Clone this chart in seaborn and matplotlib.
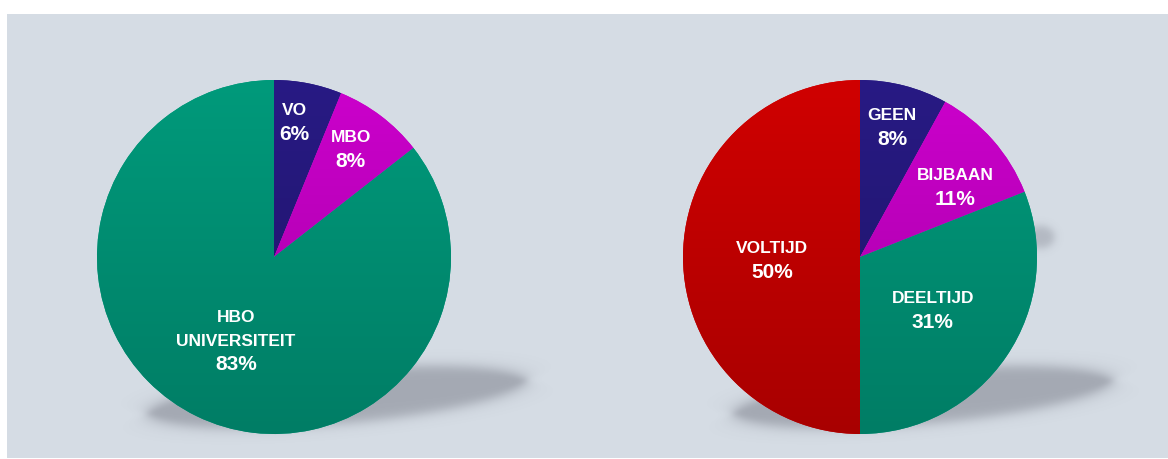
"""
Twee taartdiagrammen: vooropleiding en werk naast de studie.
"""

import matplotlib
matplotlib.use("Agg")
import matplotlib.pyplot as plt
from matplotlib.patches import Rectangle
import numpy as np
import seaborn as sns

# data
edu_labels = ["VO", "MBO", "HBO\nUNIVERSITEIT"]
edu_values = [6, 8, 83]
work_labels = ["GEEN", "BIJBAAN", "DEELTIJD", "VOLTIJD"]
work_values = [8, 11, 31, 50]

# (top, bottom) gradient colours
NAVY = ("#281a84", "#1e1466")
MAGENTA = ("#cc00cc", "#a400a4")
TEAL = ("#009a7b", "#007d65")
RED = ("#d00000", "#a80000")
edu_colors = [NAVY, MAGENTA, TEAL]
work_colors = [NAVY, MAGENTA, TEAL, RED]

# label placement: (radius fraction, angle tweak in degrees)
edu_label_pos = [(0.78, 2.6), (0.754, 2.0), (0.513, 1.3)]
work_label_pos = [(0.762, 0.7), (0.67, -4.6), (0.506, -1.3), (0.497, 1.0)]

W, H = 1168, 459
R = 177
BG = "#d5dce4"
STEP = 23.5

sns.set_theme(style="white")
plt.rcParams["font.family"] = ["Liberation Sans", "DejaVu Sans"]


def soft_ellipse(xx, yy, cx, cy, a, b, ang, w):
    t = np.deg2rad(ang)
    u = (xx - cx) * np.cos(t) + (yy - cy) * np.sin(t)
    v = -(xx - cx) * np.sin(t) + (yy - cy) * np.cos(t)
    f = np.sqrt((u / a) ** 2 + (v / b) ** 2) + 1e-9
    g = np.sqrt((u / a**2) ** 2 + (v / b**2) ** 2) / f + 1e-9
    sdf = (f - 1) / g
    return 0.5 * (1 - np.tanh(sdf / w))


def draw_shadows(ax):
    yy, xx = np.mgrid[0:H, 0:W] + 0.5
    alpha = np.zeros((H, W))
    for cx in (337, 923):
        alpha += 0.32 * soft_ellipse(xx, yy, cx, 62, 190, 27, 5, 7)
    alpha += 0.22 * soft_ellipse(xx, yy, 1040, 222, 14, 11, 0, 5)
    rgba = np.zeros((H, W, 4))
    rgba[..., 0] = 60 / 255
    rgba[..., 1] = 61 / 255
    rgba[..., 2] = 75 / 255
    rgba[..., 3] = np.clip(alpha, 0, 1)
    ax.imshow(rgba, extent=[0, W, 0, H], origin="lower", aspect="auto",
              zorder=1, interpolation="bilinear")


def draw_pie(ax, values, labels, colors, center, label_pos):
    cx, cy = center
    wedges, _ = ax.pie(values, colors=[c[0] for c in colors], startangle=90,
                       counterclock=False, center=center, radius=R,
                       wedgeprops=dict(linewidth=0, zorder=2))
    grad = np.linspace(0, 1, 256).reshape(-1, 1)
    for wdg, (top, bot) in zip(wedges, colors):
        cmap = sns.blend_palette([bot, top], as_cmap=True)
        im = ax.imshow(grad, cmap=cmap, extent=[cx - R, cx + R, cy - R, cy + R],
                       origin="lower", aspect="auto", zorder=3,
                       interpolation="bilinear")
        im.set_clip_path(wdg)

    for wdg, lab, val, (rf, dth) in zip(wedges, labels, values, label_pos):
        mid = np.deg2rad((wdg.theta1 + wdg.theta2) / 2 + dth)
        x = cx + rf * R * np.cos(mid)
        y = cy + rf * R * np.sin(mid)
        lines = lab.split("\n") + [f"{val}%"]
        n = len(lines)
        for i, line in enumerate(lines):
            fs = 15 if i == n - 1 else 12.5
            cap = 0.716 * fs * 100 / 72
            off = ((n - 1) / 2 - i) * STEP - cap / 2
            ax.annotate(line, (x, y), xytext=(0, off), textcoords="offset pixels",
                        ha="center", va="baseline", color="white",
                        fontsize=fs, fontweight="bold", zorder=5)


fig = plt.figure(figsize=(W / 100, H / 100), dpi=100, facecolor="white")
ax = fig.add_axes([0, 0, 1, 1])

ax.add_patch(Rectangle((7, 1), W - 7, 444, facecolor=BG, edgecolor="none", zorder=0))
draw_shadows(ax)
draw_pie(ax, edu_values, edu_labels, edu_colors, (274, 202), edu_label_pos)
draw_pie(ax, work_values, work_labels, work_colors, (860, 202), work_label_pos)

ax.set_xlim(0, W)
ax.set_ylim(0, H)
ax.axis("off")

fig.savefig("out.png", dpi=100, facecolor="white")
plt.close(fig)
